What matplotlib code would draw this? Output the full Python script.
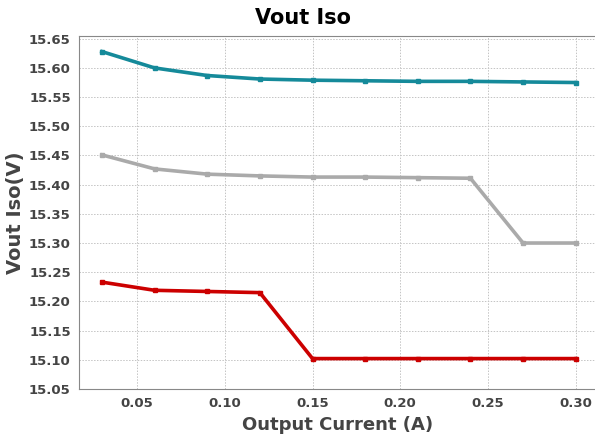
import matplotlib
matplotlib.use("Agg")
import matplotlib.pyplot as plt

current = [0.03, 0.06, 0.09, 0.12, 0.15, 0.18, 0.21, 0.24, 0.27, 0.30]
vout_teal = [15.628, 15.600, 15.587, 15.581, 15.579, 15.578, 15.577, 15.577, 15.576, 15.575]
vout_gray = [15.451, 15.427, 15.418, 15.415, 15.413, 15.413, 15.412, 15.411, 15.300, 15.300]
vout_red = [15.233, 15.219, 15.217, 15.215, 15.102, 15.102, 15.102, 15.102, 15.102, 15.102]

xticks = [0.05, 0.10, 0.15, 0.20, 0.25, 0.30]
yticks = [15.05, 15.10, 15.15, 15.20, 15.25, 15.30, 15.35, 15.40, 15.45, 15.50, 15.55, 15.60, 15.65]

txt = "#444444"
fig = plt.figure(figsize=(5.95, 4.37), dpi=100)
ax = fig.add_axes([0.133, 0.110, 0.867, 0.808])

for ys, c in [(vout_teal, "#158a9a"), (vout_gray, "#aaaaaa"), (vout_red, "#cc0000")]:
    ax.plot(current, ys, color=c, lw=2.6, marker="s", ms=3, zorder=3)

ax.set_xlim(0.017, 0.311)
ax.set_ylim(15.05, 15.655)
ax.set_xticks(xticks)
ax.set_xticklabels([f"{v:.2f}" for v in xticks])
ax.set_yticks(yticks)
ax.set_yticklabels([f"{v:.2f}" for v in yticks])
ax.grid(True, color="#c4c4c4", ls=(0, (1.5, 1.5)), lw=0.7)
ax.tick_params(length=0, labelsize=9.5, colors=txt, pad=6)
for lab in ax.get_xticklabels() + ax.get_yticklabels():
    lab.set_fontweight("bold")
for s in ["left", "bottom", "top"]:
    ax.spines[s].set_color("#888888")
ax.spines["right"].set_visible(False)

ax.set_xlabel("Output Current (A)", fontsize=13, fontweight="bold", color=txt, labelpad=4)
ax.set_ylabel("Vout Iso(V)", fontsize=14, fontweight="bold", color=txt, labelpad=3)
fig.text(0.51, 0.945, "Vout Iso", fontsize=15, fontweight="bold", color="black",
         ha="center", va="baseline")

fig.savefig("out.png", dpi=100)
